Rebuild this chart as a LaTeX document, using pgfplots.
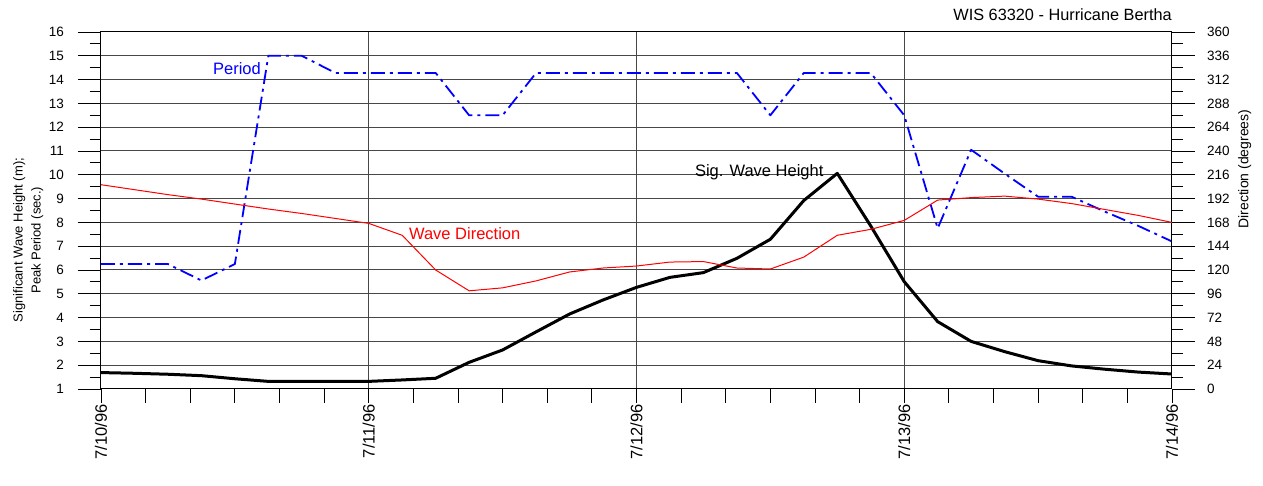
\documentclass[border=0pt]{standalone}
\usepackage{fontspec}
\setmainfont{Liberation Sans}
\usepackage{pgfplots}
\pgfplotsset{compat=1.18}
\usepackage{pgfplotstable}

\pgfplotstableread{
h hs per dir
0 1.69 6.25 206
3 1.66 6.25 201
6 1.62 6.25 196
9 1.56 5.56 191.5
12 1.43 6.25 186.5
15 1.32 15.0 181.5
18 1.32 15.0 177
21 1.32 14.28 172
24 1.32 14.28 167
27 1.38 14.28 155
30 1.45 14.28 120
33 2.12 12.5 99
36 2.64 12.5 102
39 3.40 14.28 109
42 4.15 14.28 118
45 4.74 14.28 122
48 5.27 14.28 124
51 5.69 14.28 128
54 5.89 14.28 128.5
57 6.49 14.28 122
60 7.29 12.5 121
63 8.92 14.28 133
66 10.06 14.28 155
69 7.85 14.28 161
72 5.51 12.5 170
75 3.83 7.75 190.5
78 3.00 11.05 193
81 2.57 10.05 194.5
84 2.19 9.08 191.5
87 1.97 9.08 187
90 1.83 8.45 181
93 1.71 7.85 175
96 1.63 7.2 168
}\data

\pgfplotsset{
  common/.style={
    width=1071pt, height=357pt, scale only axis,
    xmin=0, xmax=96,
    tick align=outside,
    major tick length=23pt, minor tick length=11pt,
    /pgf/number format/assume math mode=true,
    tick label style={font=\fontsize{13.5}{15}\selectfont},
    axis line style={line width=1pt},
    every tick/.style={black, line width=0.9pt},
    clip mode=individual,
  }
}

\begin{document}
\begin{tikzpicture}
\path[use as bounding box] (-101pt,-97pt) rectangle (1162pt,389pt);

% main axis: frame, grid, left ticks, period and wave height
\begin{axis}[common,
  ymin=1, ymax=16, ytick={1,...,16}, minor y tick num=1, ytick pos=left,
  xtick={0,24,48,72,96}, xticklabels={,,,,}, xtick style={draw=none},
  grid=major, major grid style={black!72, line width=1pt},
  yticklabel style={anchor=east, inner sep=0pt, xshift=-14pt},
  ylabel={Significant Wave Height (m);\\Peak Period (sec.)},
  every axis y label/.style={at={(axis description cs:-0.068,0.417)}, rotate=90, anchor=center, align=center, font=\fontsize{13}{18}\selectfont},
]
\addplot[blue, line width=1.8pt, dash pattern=on 14pt off 5pt on 3pt off 5pt, line join=round] table[x=h,y=per]{\data};
\addplot[black, line width=3pt, line join=round] table[x=h,y=hs]{\data};
\node[blue, font=\fontsize{16.5}{19}\selectfont] at (axis cs:12.19,14.45) {Period};
\node[red, font=\fontsize{16.5}{19}\selectfont] at (axis cs:32.6,7.51) {Wave Direction};
\node[black, font=\fontsize{16.5}{19}\selectfont] at (axis cs:59.0,10.12) {Sig. Wave Height};
\node[anchor=east, inner sep=0pt, font=\fontsize{16.3}{19}\selectfont] at (axis description cs:1,1.0476) {WIS 63320 - Hurricane Bertha};
\end{axis}

% x axis ticks and date labels
\begin{axis}[common,
  ymin=1, ymax=16, hide y axis, axis x line*=bottom, x axis line style={-},
  xtick={0,24,48,72,96}, xticklabels={7/10/96,7/11/96,7/12/96,7/13/96,7/14/96},
  minor xtick={4,8,12,16,20,28,32,36,40,44,52,56,60,64,68,76,80,84,88,92},
  major tick length=14pt, minor tick length=14pt,
  xticklabel style={rotate=90, anchor=east, inner sep=0pt, font=\fontsize{16.5}{18}\selectfont},
  xticklabel shift=1pt,
]
\end{axis}

% right axis: direction
\begin{axis}[common,
  ymin=0, ymax=360, hide x axis, axis y line*=right, y axis line style={-},
  ytick={0,24,...,360}, minor y tick num=1,
  yticklabel style={anchor=west, inner sep=0pt, xshift=12pt},
  ylabel={Direction (degrees)},
  every axis y label/.style={at={(axis description cs:1.068,0.616)}, rotate=90, anchor=center, font=\fontsize{14}{16}\selectfont},
]
\addplot[red, line width=1pt, line join=round] table[x=h,y=dir]{\data};
\end{axis}
\end{tikzpicture}
\end{document}
